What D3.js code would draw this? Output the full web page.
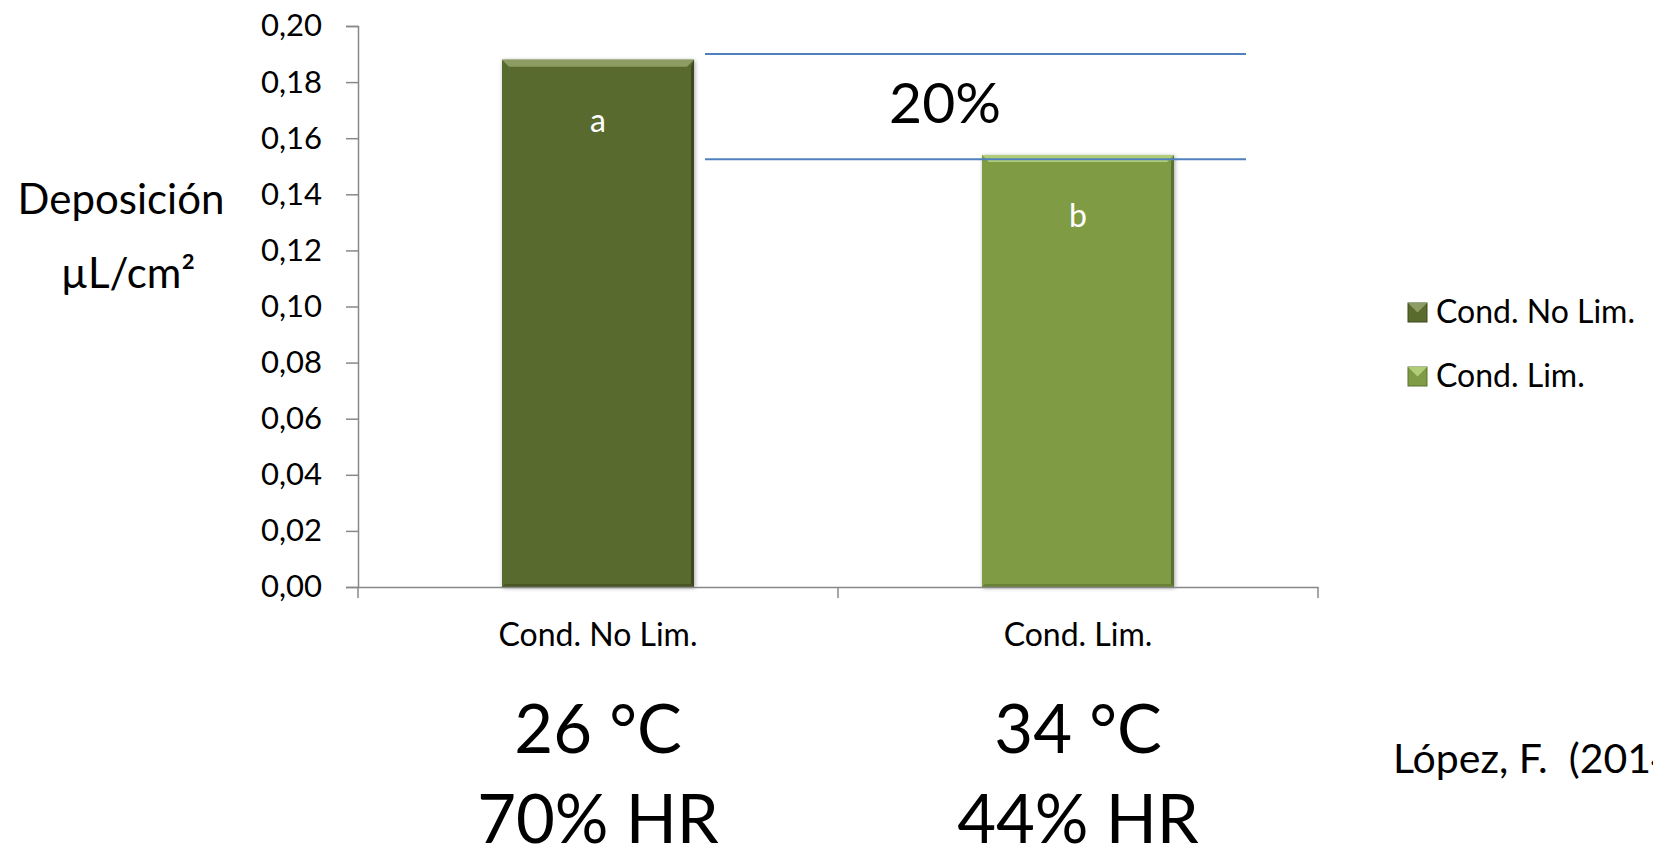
<!DOCTYPE html>
<html>
<head>
<meta charset="utf-8">
<script src="https://cdn.jsdelivr.net/npm/d3@7"></script>
<style>
  html, body { margin: 0; padding: 0; background: #fff; }
  svg { display: block; font-family: Lato, "Noto Sans", sans-serif; }
</style>
</head>
<body>
<div class="chart"></div>
<script>
// data
const categories = ["Cond. No Lim.", "Cond. Lim."];
const values = [0.188, 0.154];
const letters = ["a", "b"];
const temps = ["26 °C", "34 °C"];
const humidity = ["70% HR", "44% HR"];
const yTicks = [0, 0.02, 0.04, 0.06, 0.08, 0.10, 0.12, 0.14, 0.16, 0.18, 0.20];
const refLines = [0.19, 0.1525];
const diffLabel = "20%";

const colors = ["#596b2d", "#7f9c45"];
const lightColors = ["#8d9c63", "#b2cd78"];
const darkColors = ["#3d4a1c", "#5a7230"];

const width = 1653;
const height = 846;
const margin = {top: 26, bottom: 259, left: 358, right: 335};

const svg = d3.select(".chart")
  .append("svg")
  .attr("width", width)
  .attr("height", height);

const defs = svg.append("defs");
defs.append("filter")
  .attr("id", "shadow")
  .attr("x", "-20%").attr("y", "-20%")
  .attr("width", "140%").attr("height", "140%")
  .append("feDropShadow")
  .attr("dx", 1).attr("dy", 1)
  .attr("stdDeviation", 2)
  .attr("flood-color", "#000")
  .attr("flood-opacity", 0.35);

// scales
const x = d3.scaleBand()
  .domain(categories)
  .range([margin.left, width - margin.right])
  .paddingInner(0.6)
  .paddingOuter(0.3);

const y = d3.scaleLinear()
  .domain([0, 0.2])
  .range([height - margin.bottom, margin.top]);

const bw = x.bandwidth();

// bars with a simple bevel
const bars = svg.append("g")
  .selectAll("g")
  .data(categories)
  .join("g")
  .attr("filter", "url(#shadow)");

bars.append("rect")
  .attr("x", d => x(d))
  .attr("y", (d, i) => y(values[i]))
  .attr("width", bw)
  .attr("height", (d, i) => y(0) - y(values[i]))
  .attr("fill", (d, i) => colors[i]);

const bev = 7;
// top highlight
bars.append("polygon")
  .attr("points", (d, i) => {
    const x0 = x(d), x1 = x(d) + bw, t = y(values[i]);
    return [[x0, t], [x1, t], [x1 - bev, t + bev], [x0 + bev, t + bev]].join(" ");
  })
  .attr("fill", (d, i) => lightColors[i]);
// right shade
bars.append("polygon")
  .attr("points", (d, i) => {
    const x1 = x(d) + bw, t = y(values[i]), b = y(0);
    return [[x1, t], [x1, b], [x1 - 3, b - 3], [x1 - 3, t + bev]].join(" ");
  })
  .attr("fill", (d, i) => darkColors[i]);
// bottom shade
bars.append("polygon")
  .attr("points", (d, i) => {
    const x0 = x(d), x1 = x(d) + bw, b = y(0);
    return [[x0, b], [x1, b], [x1 - 3, b - 3], [x0 + 3, b - 3]].join(" ");
  })
  .attr("fill", (d, i) => darkColors[i])
  .attr("opacity", 0.6);

// letters inside bars
svg.append("g")
  .selectAll("text")
  .data(categories)
  .join("text")
  .attr("x", d => x(d) + bw / 2)
  .attr("y", (d, i) => y(values[i]) + 72)
  .attr("text-anchor", "middle")
  .attr("fill", "#fff")
  .attr("font-size", 32)
  .text((d, i) => letters[i]);

// y axis
function yAxis(g) {
  g.attr("transform", `translate(${margin.left}, 0)`)
    .call(d3.axisLeft(y).tickValues(yTicks).tickSize(12).tickPadding(24)
      .tickFormat(d => d3.format(".2f")(d).replace(".", ",")));
  g.selectAll("path, line").attr("stroke", "#888").attr("stroke-width", 1.5);
  g.selectAll("text").attr("font-size", 31).attr("fill", "#000")
    .attr("font-family", "Lato, sans-serif");
}

// x axis
function xAxis(g) {
  g.attr("transform", `translate(0, ${y(0)})`)
    .call(d3.axisBottom(x).tickSize(0).tickFormat(""));
  g.select(".domain").attr("stroke", "#888").attr("stroke-width", 1.5);
  const edges = [margin.left, x(categories[1]) - x.step() * x.paddingInner() / 2, width - margin.right];
  g.selectAll(".sep")
    .data(edges)
    .join("line")
    .attr("class", "sep")
    .attr("x1", d => d).attr("x2", d => d)
    .attr("y1", 0).attr("y2", 11)
    .attr("stroke", "#888").attr("stroke-width", 1.5);
}

svg.append("g").call(xAxis);
svg.append("g").call(yAxis);

// category labels
svg.append("g")
  .selectAll("text")
  .data(categories)
  .join("text")
  .attr("x", d => x(d) + bw / 2)
  .attr("y", y(0) + 59)
  .attr("text-anchor", "middle")
  .attr("font-size", 32)
  .text(d => d);

// conditions under the categories
svg.append("g")
  .selectAll("text")
  .data(categories)
  .join("text")
  .attr("x", d => x(d) + bw / 2)
  .attr("y", y(0) + 166)
  .attr("text-anchor", "middle")
  .attr("font-size", 67)
  .text((d, i) => temps[i]);

svg.append("g")
  .selectAll("text")
  .data(categories)
  .join("text")
  .attr("x", d => x(d) + bw / 2)
  .attr("y", y(0) + 256)
  .attr("text-anchor", "middle")
  .attr("font-size", 67)
  .text((d, i) => humidity[i]);

// reference lines and difference
const lx0 = x(categories[0]) + bw + 11;
const lx1 = x(categories[1]) + bw + 72;
svg.append("g")
  .selectAll("line")
  .data(refLines)
  .join("line")
  .attr("x1", lx0).attr("x2", lx1)
  .attr("y1", d => y(d)).attr("y2", d => y(d))
  .attr("stroke", "#4f81bd")
  .attr("stroke-width", 2);

svg.append("text")
  .attr("x", 945)
  .attr("y", 123)
  .attr("text-anchor", "middle")
  .attr("font-size", 57)
  .text(diffLabel);

// y title
svg.append("text")
  .attr("x", 121).attr("y", 214)
  .attr("text-anchor", "middle")
  .attr("font-size", 42)
  .text("Deposición");
svg.append("text")
  .attr("x", 128).attr("y", 288)
  .attr("text-anchor", "middle")
  .attr("font-size", 42)
  .text("µL/cm²");

// legend
const legend = svg.append("g")
  .selectAll("g")
  .data(categories)
  .join("g")
  .attr("transform", (d, i) => `translate(1408, ${303 + i * 64})`);

legend.append("rect")
  .attr("width", 19).attr("height", 19)
  .attr("fill", (d, i) => colors[i])
  .attr("stroke", (d, i) => darkColors[i]);
legend.append("polygon")
  .attr("points", "0,0 19,0 9.5,9.5")
  .attr("fill", (d, i) => lightColors[i]);
legend.append("text")
  .attr("x", 28).attr("y", 20)
  .attr("font-size", 32)
  .text(d => d);

// source
svg.append("text")
  .attr("x", 1393).attr("y", 773)
  .attr("font-size", 41)
  .text("López, F.  (2014)")
  .attr("xml:space", "preserve");
</script>
</body>
</html>
